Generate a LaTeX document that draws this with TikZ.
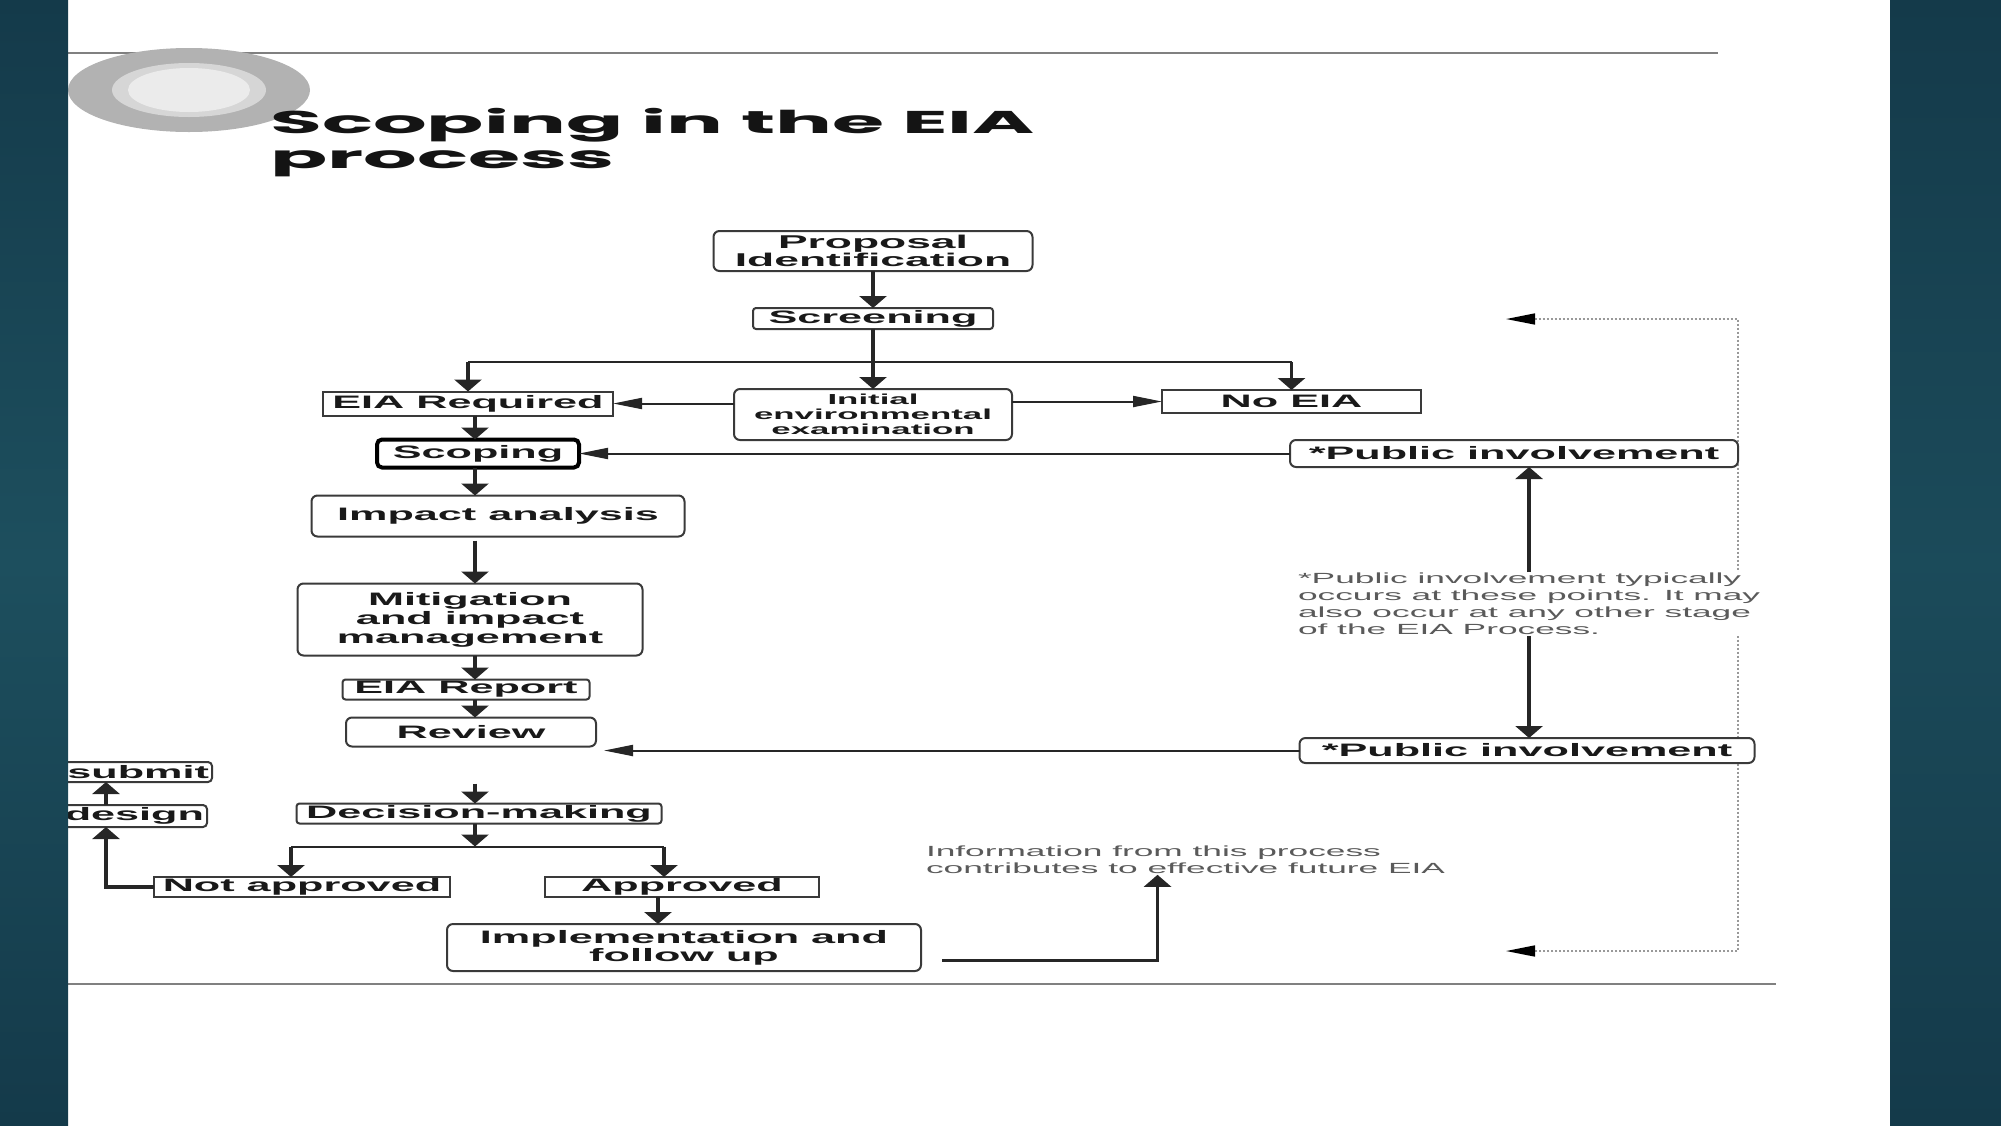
\documentclass[tikz,border=0pt]{standalone}
\usepackage{fontspec}
\setmainfont{Liberation Sans}[FakeStretch=2.4]
\newfontfamily\titlefont{Poppins}[FakeStretch=2.68]
\usetikzlibrary{positioning, arrows.meta, calc}

\definecolor{slidedark}{HTML}{143A4A}
\definecolor{slidemid}{HTML}{1D4F5E}
\definecolor{boxline}{HTML}{3A3A3A}
\definecolor{notegray}{HTML}{5A5A5A}
\definecolor{rulegray}{HTML}{808080}

\begin{document}
\begin{tikzpicture}[x=1pt, y=1pt,
        boxfont/.style={font=\fontsize{18}{18}\selectfont\bfseries},
        procbox/.style={rectangle, rounded corners=6pt, draw=boxline, line width=2pt, fill=white, inner sep=0pt, outer sep=0pt, align=center, text=black!90, boxfont},
        flatbox/.style={procbox, rounded corners=0pt},
        notetext/.style={inner sep=1pt, outer sep=0pt, fill=white, align=left, text=notegray, font=\fontsize{14.7}{17}\selectfont},
        varr/.style={-{Triangle[length=12pt, width=27pt]}, line width=3.5pt, black!85},
        harr/.style={-{Triangle[length=29pt, width=11pt]}, line width=2pt, black!85},
        link/.style={line width=2pt, black!85},
        loopline/.style={{Triangle[length=29pt, width=11pt, black]}-{Triangle[length=29pt, width=11pt, black]}, line width=1.6pt, black!40, dash pattern=on 2pt off 2pt},
    ]
        \useasboundingbox (0,0) rectangle (2001,-1125);

        % slide frame: rules and ornament
        \draw[rulegray, line width=2pt] (68,-53) -- (1718,-53);
        \draw[rulegray, line width=2pt] (68,-984) -- (1776,-984);
        \fill[black!30] (189,-90) ellipse [x radius=121, y radius=42];
        \fill[black!16] (189,-90) ellipse [x radius=77, y radius=27];
        \fill[black!8] (189,-90) ellipse [x radius=61, y radius=22];

        \node[anchor=north west, inner sep=0pt, align=left, font=\titlefont\fontsize{31.5}{35}\selectfont\bfseries, text=black!92] (title) at (270,-108) {Scoping in the EIA\\process};

        % dotted feedback loop (under the boxes)
        \coordinate (loopA) at (1506,-319);
        \coordinate (loopB) at (1738,-319);
        \coordinate (loopC) at (1738,-951);
        \coordinate (loopD) at (1506,-951);
        \draw[loopline] (loopA) -- (loopB) -- (loopC) -- (loopD);

        % screening stage
        \node[procbox, minimum width=319pt, minimum height=40pt, font=\fontsize{18.5}{16.7}\selectfont\bfseries] (prop) at (873,-251) {Proposal\\Identification};
        \node[procbox, rounded corners=3pt, minimum width=240pt, minimum height=21pt, below=37pt of prop] (screen) {Screening};
        \node[procbox, minimum width=278pt, minimum height=51pt, font=\fontsize{14.5}{15}\selectfont\bfseries, below=60pt of screen] (iee) {Initial\\environmental\\examination};
        \node[flatbox, minimum width=290pt, minimum height=24pt, left=121pt of iee, yshift=11pt] (eiareq) {EIA Required};
        \node[flatbox, minimum width=259pt, minimum height=23pt, right=150pt of iee, yshift=13pt] (noeia) {No EIA};

        % main column
        \node[procbox, draw=black, line width=4pt, rounded corners=5pt, minimum width=202pt, minimum height=28pt, below=24pt of eiareq, xshift=10pt] (scoping) {Scoping};
        \node[procbox, minimum width=373pt, minimum height=41pt, below=28pt of scoping, xshift=20pt] (impact) {Impact analysis};
        \node[procbox, minimum width=345pt, minimum height=72pt, font=\fontsize{18}{19}\selectfont\bfseries, below=47pt of impact, xshift=-28pt] (mitig) {Mitigation\\and impact\\management};
        \node[procbox, rounded corners=3pt, minimum width=247pt, minimum height=20pt, below=24pt of mitig, xshift=-4pt] (report) {EIA Report};
        \node[procbox, minimum width=250pt, minimum height=29pt, below=18pt of report, xshift=5pt] (review) {Review};
        \node[procbox, rounded corners=3pt, minimum width=365pt, minimum height=20pt, below=57pt of review, xshift=8pt] (decision) {Decision-making};
        \node[flatbox, minimum width=296pt, minimum height=20pt] (notappr) at (302,-887) {Not approved};
        \node[flatbox, minimum width=274pt, minimum height=20pt, right=95pt of notappr] (appr) {Approved};
        \node[procbox, minimum width=474pt, minimum height=47pt, below=27pt of appr, xshift=2pt] (impl) {Implementation and\\follow up};

        % re-design loop boxes (cut by the frame)
        \node[procbox, rounded corners=4pt, text width=150pt, align=right, inner xsep=3pt, minimum height=20pt, anchor=east] (submit) at (212,-772) {submit};
        \node[procbox, rounded corners=4pt, text width=150pt, align=right, inner xsep=3pt, minimum height=22pt, anchor=east] (design) at (207,-816) {design};

        % public involvement
        \node[procbox, minimum width=448pt, minimum height=27pt] (pubtop) at (1514,-453.5) {*Public involvement};
        \node[procbox, minimum width=455pt, minimum height=25pt] (pubbot) at (1527,-750.5) {*Public involvement};
        \node[notetext, anchor=north west] (note) at (1297,-572) {*Public involvement typically\\occurs at these points. It may\\also occur at any other stage\\of the EIA Process.};
        \node[notetext, anchor=north west] (info) at (925,-845) {Information from this process\\contributes to effective future EIA};

        % arrows
        \coordinate (spine) at (475,0);
        \coordinate (fork) at ($(screen.south)+(0,-33)$);
        \draw[varr] (prop) -- (screen);
        \draw[varr] (screen) -- (iee);
        \draw[link] (eiareq.north |- fork) -- (noeia.north |- fork);
        \draw[varr] (eiareq.north |- fork) -- (eiareq.north);
        \draw[varr] (noeia.north |- fork) -- (noeia.north);
        \draw[harr] (iee.west |- eiareq.east) -- (eiareq.east);
        \draw[harr] (iee.east |- noeia.west) -- (noeia.west);
        \draw[harr] (pubtop.west) -- (pubtop.west -| scoping.east);

        \draw[varr] (eiareq.south -| spine) -- (scoping.north -| spine);
        \draw[varr] (scoping.south -| spine) -- (impact.north -| spine);
        \draw[varr, shorten <=4pt] (impact.south -| spine) -- (mitig.north -| spine);
        \draw[varr] (mitig.south -| spine) -- (report.north -| spine);
        \draw[varr] (report.south -| spine) -- (review.north -| spine);
        \draw[harr, shorten >=8pt] (pubbot.west) -- (pubbot.west -| review.east);
        \draw[varr, shorten <=37pt] (review.south -| spine) -- (decision.north -| spine);

        \draw[varr] (note.north) -- (note.north |- pubtop.south);
        \draw[varr] (note.south) -- (note.south |- pubbot.north);

        % decision branches
        \coordinate (fork2) at ($(decision.south)+(0,-23)$);
        \coordinate (forkL) at ($(fork2 -| notappr.north)+(-11,0)$);
        \coordinate (forkR) at ($(fork2 -| appr.north)+(-18,0)$);
        \draw[varr] (decision.south -| spine) -- (fork2 -| spine);
        \draw[link] (forkL) -- (forkR);
        \draw[varr] (forkL) -- (forkL |- notappr.north);
        \draw[varr] (forkR) -- (forkR |- appr.north);
        \coordinate (apprfoot) at ($(appr.south)+(-24,0)$);
        \draw[varr] (apprfoot) -- (apprfoot |- impl.north);

        \coordinate (redo) at ($(design.south)+(-23,0)$);
        \draw[varr] (notappr.west) -| (redo);
        \draw[varr] (design.north -| redo) -- (submit.south -| redo);

        \coordinate (implout) at ($(impl.east)+(21,-13)$);
        \draw[varr] (implout) -| ($(info.south)+(-28,0)$);

        % frame strips
        \shade[top color=slidedark, bottom color=slidedark, middle color=slidemid] (0,0) rectangle (68,-1125);
        \shade[top color=slidedark, bottom color=slidedark, middle color=slidemid!80!slidedark] (1890,0) rectangle (2001,-1125);
    \end{tikzpicture}
\end{document}
